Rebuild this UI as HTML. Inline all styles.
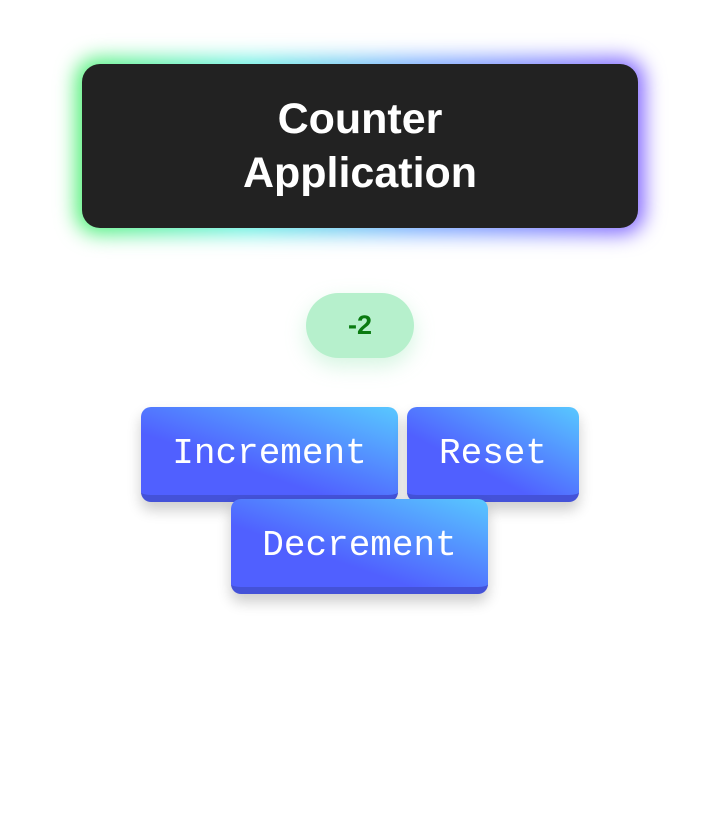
<!DOCTYPE html>
<html><head><style>
body{margin:0;width:719px;height:821px;background:#fff;position:relative;overflow:hidden;font-family:"Liberation Sans",sans-serif}
.glow{position:absolute;left:76px;top:58px;width:568px;height:176px;border-radius:22px;background:linear-gradient(to right,#4cf070,#60f0e0 30%,#70a8ff 60%,#8060ff);filter:blur(10px)}
.title{position:absolute;left:82px;top:64px;width:556px;height:164px;background:#222;border-radius:18px;color:#fff;font-size:43px;font-weight:bold;line-height:54px;text-align:center;display:flex;align-items:center;justify-content:center}
.pill{position:absolute;left:306px;top:293px;width:108px;height:65px;border-radius:33px;background:#b6f0cc;color:#0a7a10;font-size:27px;font-weight:bold;text-align:center;line-height:65px;box-shadow:0 8px 20px rgba(150,230,180,.4)}
.btn{position:absolute;height:88px;border-radius:10px;background:linear-gradient(to top right,#5060ff 35%,#58c8ff);border-bottom:7px solid #4452d8;color:#fff;font-family:"Liberation Mono","DejaVu Sans Mono",monospace;font-size:36px;text-align:center;line-height:94px;box-shadow:0 8px 14px rgba(0,0,0,.2)}
</style></head><body>
<div class="glow"></div>
<div class="title"><div>Counter<br>Application</div></div>
<div class="pill">-2</div>
<div class="btn" style="left:141px;top:407px;width:257px">Increment</div>
<div class="btn" style="left:407px;top:407px;width:172px">Reset</div>
<div class="btn" style="left:231px;top:499px;width:257px">Decrement</div>
</body></html>
